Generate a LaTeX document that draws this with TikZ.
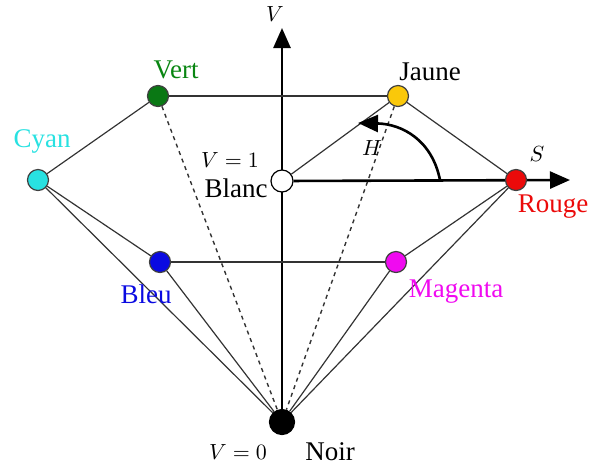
\documentclass[tikz,border=0pt]{standalone}
\usepackage{fontspec}
\setmainfont{Liberation Serif}
\usepackage{xcolor}
\usetikzlibrary{arrows.meta, positioning, backgrounds}

\definecolor{cyanHSV}{RGB}{40,225,225}
\definecolor{vertHSV}{RGB}{10,120,20}
\definecolor{jauneHSV}{RGB}{250,200,10}
\definecolor{rougeHSV}{RGB}{235,10,10}
\definecolor{bleuHSV}{RGB}{10,10,225}
\definecolor{magHSV}{RGB}{240,10,240}

\tikzset{
  sommet/.style={circle, draw=black!75, line width=0.6pt, minimum size=10.5pt, inner sep=0pt},
  lien/.style={line width=0.6pt, draw=black!80},
  pointille/.style={line width=0.7pt, draw=black!80, dash pattern=on 2pt off 2pt},
  axe/.style={line width=1.3pt, -{Triangle[length=10pt, width=8.5pt]}},
  nom/.style={font=\fontsize{13.5}{16}\selectfont, inner sep=0pt},
  petit/.style={font=\fontsize{10.5}{12}\selectfont, inner sep=0pt}
}

\begin{document}
\begin{tikzpicture}[x=0.5pt, y=-0.5pt]
    \useasboundingbox (0,0) rectangle (590,468);

    % Sommets du double cone
    \node[sommet, fill=vertHSV] (vert) at (158,96) {};
    \node[sommet, fill=jauneHSV] (jaune) at (398,96) {};
    \node[sommet, fill=cyanHSV] (cyan) at (38,180) {};
    \node[sommet, fill=white, draw=black, minimum size=11pt] (blanc) at (282,181) {};
    \node[sommet, fill=rougeHSV] (rouge) at (516,180) {};
    \node[sommet, fill=bleuHSV] (bleu) at (160,262) {};
    \node[sommet, fill=magHSV] (magenta) at (396,262) {};
    \node[sommet, fill=black, draw=black, minimum size=12.5pt] (noir) at (282,422) {};

    % Extremites des axes et de l'angle H
    \coordinate (vtip) at (282,28);
    \coordinate (stip) at (570,180);
    \coordinate (hdeb) at (440,180);
    \coordinate (hfin) at (358,123);

    \begin{scope}[on background layer]
    % Axes V et S
    \draw[axe] (noir) -- (vtip);
    \draw[axe] (blanc) -- (stip);

    % Aretes
    \draw[lien] (vert) -- (jaune);
    \draw[lien] (bleu) -- (magenta);
    \draw[lien] (cyan) -- (vert);
    \draw[lien] (cyan) -- (bleu);
    \draw[lien] (jaune) -- (rouge);
    \draw[lien] (magenta) -- (rouge);
    \draw[lien] (blanc) -- (jaune);
    \draw[lien] (cyan) -- (noir);
    \draw[lien] (bleu) -- (noir);
    \draw[lien] (magenta) -- (noir);
    \draw[lien] (rouge) -- (noir);
    \draw[pointille] (vert) -- (noir);
    \draw[pointille] (jaune) -- (noir);

    % Angle H
    \draw[axe] (hdeb) .. controls (432,140) and (402,124) .. (hfin);
    \end{scope}

    % Labels
    \node[nom, text=vertHSV!90!green] (lvert) at (176,70) {Vert};
    \node[nom] (ljaune) at (430,72) {Jaune};
    \node[nom, text=cyanHSV] (lcyan) at (42,141) {Cyan};
    \node[nom] (lblanc) at (236,188) {Blanc};
    \node[petit] (lv1) at (230,160) {$V=1$};
    \node[nom, text=rougeHSV] (lrouge) at (553,207) {Rouge};
    \node[nom, text=bleuHSV] (lbleu) at (146,294) {Bleu};
    \node[nom, text=magHSV] (lmagenta) at (456,292) {Magenta};
    \node[nom] (lnoir) at (330,452) {Noir};
    \node[petit] (lv0) at (238,452) {$V=0$};
    \node[petit] (lv) at (275,14) {$V$};
    \node[petit] (ls) at (537,154) {$S$};
    \node[petit] (lh) at (372,148) {$H$};
\end{tikzpicture}
\end{document}
